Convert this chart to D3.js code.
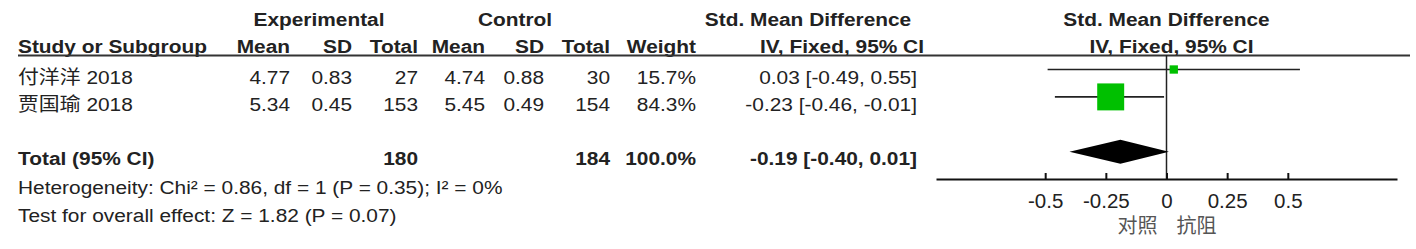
<!DOCTYPE html>
<html>
<head>
  <script src="https://d3js.org/d3.v7.min.js"></script>
  <style>
    html, body {
      margin: 0px;
      padding: 0px;
      background: #fff;
    }
    svg text {
      font-family: "Liberation Sans", Arial, "Noto Sans CJK SC", sans-serif;
      font-size: 18.8px;
      fill: #222;
    }
    .tick text {
      font-size: 20.5px;
    }
    .favours {
      font-size: 20px;
    }
  </style>
</head>
<body>
  <div id="chart"></div>
  <script>
    // data
    const studies = ["付洋洋 2018", "贾国瑜 2018"];
    const expMean = [4.77, 5.34];
    const expSD = [0.83, 0.45];
    const expN = [27, 153];
    const ctrlMean = [4.74, 5.45];
    const ctrlSD = [0.88, 0.49];
    const ctrlN = [30, 154];
    const weights = [15.7, 84.3];
    const smd = [0.03, -0.23];
    const ciLow = [-0.49, -0.46];
    const ciHigh = [0.55, -0.01];

    const totalN = [180, 184];
    const totalWeight = 100.0;
    const totalSmd = -0.19;
    const totalCI = [-0.40, 0.01];

    const tickValues = [-0.5, -0.25, 0, 0.25, 0.5];
    const tickLabels = ["-0.5", "-0.25", "0", "0.25", "0.5"];
    const favours = ["对照", "抗阻"];
    const footer = [
      "Heterogeneity: Chi² = 0.86, df = 1 (P = 0.35); I² = 0%",
      "Test for overall effect: Z = 1.82 (P = 0.07)"
    ];

    const width = 1416, height = 249;
    const sx = 1.11; // table text in the source is stretched a little sideways

    const svg = d3.select("#chart")
      .append("svg")
      .attr("width", width)
      .attr("height", height);

    function label(x, y, s, anchor, bold) {
      return svg.append("text")
        .attr("transform", `translate(${x},${y}) scale(${sx},1)`)
        .attr("text-anchor", anchor || "start")
        .attr("font-weight", bold ? "bold" : null)
        .text(s);
    }

    // row centres: 0,1 = studies, 3 = total
    const rowY = d3.scaleLinear().domain([0, 3]).range([69.5, 151.7]);
    const base = 14;

    const xScale = d3.scaleLinear()
      .domain([-0.95, 0.95])
      .range([936, 1397]);

    const sizeScale = d3.scalePow().exponent(0.7)
      .domain([0, 100])
      .range([0, 30.4]);

    // column right edges
    const col = {eMean: 290, eSD: 352, eN: 418, cMean: 485, cSD: 544, cN: 610, w: 696, ci: 917};

    // headers
    label(319, 26, "Experimental", "middle", true);
    label(515, 26, "Control", "middle", true);
    label(808, 26, "Std. Mean Difference", "middle", true);
    label(xScale(0), 26, "Std. Mean Difference", "middle", true);

    label(18, 53, "Study or Subgroup", "start", true);
    label(col.eMean, 53, "Mean", "end", true);
    label(col.eSD, 53, "SD", "end", true);
    label(col.eN, 53, "Total", "end", true);
    label(col.cMean, 53, "Mean", "end", true);
    label(col.cSD, 53, "SD", "end", true);
    label(col.cN, 53, "Total", "end", true);
    label(col.w, 53, "Weight", "end", true);
    label(924, 53, "IV, Fixed, 95% CI", "end", true);
    label(xScale(0) + 5, 53, "IV, Fixed, 95% CI", "middle", true);

    svg.append("line")
      .attr("x1", 18).attr("x2", 1410)
      .attr("y1", 55.5).attr("y2", 55.5)
      .attr("stroke", "#333")
      .attr("stroke-width", 2);

    // study rows
    studies.forEach(function(s, i) {
      const y = rowY(i) + base;
      label(18, y, s);
      label(col.eMean, y, expMean[i].toFixed(2), "end");
      label(col.eSD, y, expSD[i].toFixed(2), "end");
      label(col.eN, y, expN[i], "end");
      label(col.cMean, y, ctrlMean[i].toFixed(2), "end");
      label(col.cSD, y, ctrlSD[i].toFixed(2), "end");
      label(col.cN, y, ctrlN[i], "end");
      label(col.w, y, weights[i].toFixed(1) + "%", "end");
      label(col.ci, y, smd[i].toFixed(2) + " [" + ciLow[i].toFixed(2) + ", " + ciHigh[i].toFixed(2) + "]", "end");
    });

    // total row
    const ty = rowY(3) + 13.3;
    label(18, ty, "Total (95% CI)", "start", true);
    label(col.eN, ty, totalN[0], "end", true);
    label(col.cN, ty, totalN[1], "end", true);
    label(col.w, ty, totalWeight.toFixed(1) + "%", "end", true);
    label(col.ci, ty, totalSmd.toFixed(2) + " [" + totalCI[0].toFixed(2) + ", " + totalCI[1].toFixed(2) + "]", "end", true);

    label(18, 194, footer[0]);
    label(18, 222, footer[1]);

    // zero line
    const axisY = 179;
    svg.append("line")
      .attr("x1", xScale(0)).attr("x2", xScale(0))
      .attr("y1", 55).attr("y2", axisY)
      .attr("stroke", "#222")
      .attr("stroke-width", 1.5);

    // CI lines and squares
    svg.selectAll(".ci")
      .data(studies)
      .join("line")
      .attr("class", "ci")
      .attr("x1", (d, i) => xScale(ciLow[i]))
      .attr("x2", (d, i) => xScale(ciHigh[i]))
      .attr("y1", (d, i) => rowY(i))
      .attr("y2", (d, i) => rowY(i))
      .attr("stroke", "#222")
      .attr("stroke-width", 1.6);

    svg.selectAll(".box")
      .data(studies)
      .join("rect")
      .attr("class", "box")
      .attr("x", (d, i) => xScale(smd[i]) - sizeScale(weights[i]) / 2)
      .attr("y", (d, i) => rowY(i) - sizeScale(weights[i]) / 2)
      .attr("width", (d, i) => sizeScale(weights[i]))
      .attr("height", (d, i) => sizeScale(weights[i]))
      .attr("fill", "#00c000");

    // total diamond
    const dy = rowY(3), dh = 12;
    svg.append("path")
      .attr("d", `M${xScale(totalCI[0])},${dy} L${xScale(totalSmd)},${dy - dh} L${xScale(totalCI[1])},${dy} L${xScale(totalSmd)},${dy + dh} Z`)
      .attr("fill", "#000");

    // axis
    const xAxis = svg.append("g")
      .attr("transform", `translate(0,${axisY})`)
      .call(d3.axisBottom(xScale)
        .tickValues(tickValues)
        .tickFormat((d, i) => tickLabels[i])
        .tickSizeInner(-6)
        .tickSizeOuter(0)
        .tickPadding(14));

    xAxis.select(".domain").attr("stroke", "#111").attr("stroke-width", 2);
    xAxis.selectAll(".tick line").attr("stroke", "#111").attr("stroke-width", 2);
    xAxis.selectAll(".tick text")
      .attr("fill", "#111")
      .attr("font-family", null)
      .attr("font-size", null);

    svg.append("text")
      .attr("class", "favours")
      .attr("x", xScale(0) - 9)
      .attr("y", 233)
      .attr("text-anchor", "end")
      .style("fill", "#555")
      .text(favours[0]);
    svg.append("text")
      .attr("class", "favours")
      .attr("x", xScale(0) + 10)
      .attr("y", 233)
      .attr("text-anchor", "start")
      .style("fill", "#555")
      .text(favours[1]);
  </script>
</body>
</html>
